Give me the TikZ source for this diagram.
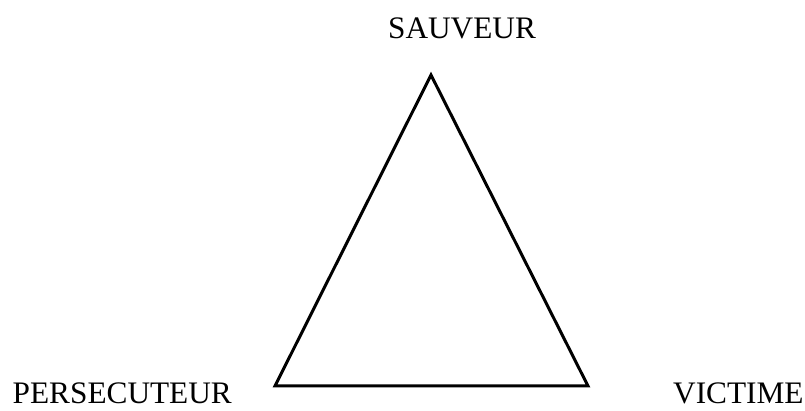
\documentclass[tikz,border=0pt]{standalone}
\usepackage{fontspec}
\setmainfont{Liberation Serif}
\begin{document}
\begin{tikzpicture}[x=1pt,y=1pt,
  lbl/.style={inner sep=0pt,font=\fontsize{31.3}{36}\selectfont},
  tri/.style={line width=3pt,line join=miter}]
\useasboundingbox (0,0) rectangle (805,411);
\coordinate (top) at (431,336);
\coordinate (bl) at (275,25);
\coordinate (br) at (588,25);
\draw[tri] (top) -- (bl) -- (br) -- cycle;
\node[lbl,anchor=base] (sauveur) at (462,372) {SAUVEUR};
\node[lbl,anchor=base west] (pers) at (12.5,7) {PERSECUTEUR};
\node[lbl,anchor=base west] (victime) at (673,7) {VICTIME};
\end{tikzpicture}
\end{document}
